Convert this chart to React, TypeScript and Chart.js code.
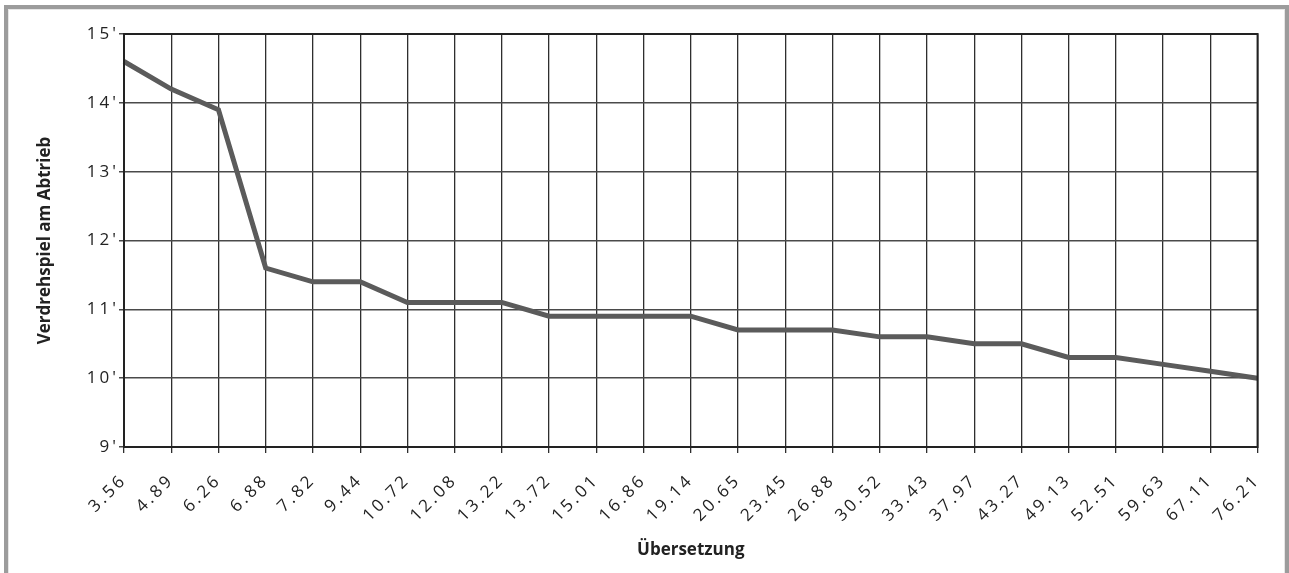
import React, { useEffect, useRef } from "react";
import { Chart, registerables } from "chart.js";

Chart.register(...registerables);

const categories: string[] = [
  "3.56", "4.89", "6.26", "6.88", "7.82", "9.44", "10.72", "12.08", "13.22", "13.72",
  "15.01", "16.86", "19.14", "20.65", "23.45", "26.88", "30.52", "33.43", "37.97", "43.27",
  "49.13", "52.51", "59.63", "67.11", "76.21",
];

const backlash: number[] = [
  14.6, 14.2, 13.9, 11.6, 11.4, 11.4, 11.1, 11.1, 11.1, 10.9,
  10.9, 10.9, 10.9, 10.7, 10.7, 10.7, 10.6, 10.6, 10.5, 10.5,
  10.3, 10.3, 10.2, 10.1, 10.0,
];

const yTicks: number[] = [9, 10, 11, 12, 13, 14, 15];

const xTitle = "Übersetzung";
const yTitle = "Verdrehspiel am Abtrieb";

const FONT = "'Open Sans', 'DejaVu Sans', sans-serif";

const W = 1289;
const H = 573;
const PAD = { left: 31, right: 22, top: 34, bottom: 9 };
const PLOT = { left: 124, bottom: 447 };
const TICK_SPACING = "3px";

const plotBorder = {
  id: "plotBorder",
  beforeDraw(chart: any) {
    const ctx = chart.ctx;
    Object.values(chart.scales).forEach((s: any) => {
      if (s.__patched) return;
      s.__patched = true;
      const origLabels = s.drawLabels.bind(s);
      s.drawLabels = (area: any) => {
        ctx.letterSpacing = TICK_SPACING;
        origLabels(area);
        ctx.letterSpacing = "0px";
      };
    });
  },
  afterDraw(chart: any) {
    const { ctx, chartArea } = chart;
    ctx.save();
    ctx.strokeStyle = "#222";
    ctx.lineWidth = 2;
    ctx.strokeRect(chartArea.left, chartArea.top, chartArea.right - chartArea.left, chartArea.bottom - chartArea.top);
    ctx.restore();
  },
};

export default function App() {
  const ref = useRef<HTMLCanvasElement | null>(null);

  useEffect(() => {
    if (!ref.current) return;
    const chart = new Chart(ref.current, {
      type: "line",
      data: {
        labels: categories,
        datasets: [
          {
            data: backlash,
            borderColor: "#5b5b5b",
            borderWidth: 5,
            pointRadius: 0,
            tension: 0,
            fill: false,
          },
        ],
      },
      options: {
        animation: false,
        responsive: false,
        maintainAspectRatio: false,
        layout: { padding: PAD },
        plugins: {
          legend: { display: false },
          tooltip: { enabled: false },
        },
        scales: {
          x: {
            type: "category",
            offset: false,
            grid: { color: "#2e2e2e", lineWidth: 1.3, tickLength: 6 },
            border: { display: true, color: "#222", width: 2 },
            ticks: {
              autoSkip: false,
              maxRotation: 45,
              minRotation: 45,
              padding: 17,
              color: "#222",
              font: { family: FONT, size: 17 },
            },
            title: {
              display: true,
              text: xTitle,
              color: "#222",
              font: { family: FONT, size: 17, weight: "bold" },
              padding: { top: 0, bottom: 4 },
            },
            afterFit: (s: any) => {
              s.height = H - PAD.bottom - PLOT.bottom;
            },
          },
          y: {
            min: 9,
            max: 15,
            afterBuildTicks: (s: any) => {
              s.ticks = yTicks.map((v) => ({ value: v }));
            },
            grid: { color: "#4a4a4a", lineWidth: 1.5, tickLength: 5 },
            border: { display: true, color: "#222", width: 2 },
            ticks: {
              padding: 0,
              color: "#222",
              font: { family: FONT, size: 17 },
              callback: (v: any) => `${v}'`,
            },
            title: {
              display: true,
              text: yTitle,
              color: "#222",
              font: { family: FONT, size: 17, weight: "bold" },
              padding: { top: 4, bottom: 0 },
            },
            afterFit: (s: any) => {
              s.width = PLOT.left - PAD.left;
            },
          },
        },
      },
      plugins: [plotBorder],
    });
    return () => chart.destroy();
  }, []);

  return (
    <div style={{ position: "absolute", left: 0, top: 0, width: W, height: H, background: "#fff", overflow: "hidden" }}>
      <div
        style={{
          position: "absolute",
          left: 4,
          top: 5,
          width: W - 4 - 8,
          height: H + 20,
          borderTop: "4px solid #9c9c9c",
          borderLeft: "4px solid #9c9c9c",
          borderRight: "4px solid #9c9c9c",
          boxShadow: "inset 1px 1px 0 #e6e6e6, inset -1px 0 0 #e6e6e6",
        }}
      />
      <canvas ref={ref} width={W} height={H} style={{ position: "absolute", left: 0, top: 0, width: W, height: H }} />
    </div>
  );
}
